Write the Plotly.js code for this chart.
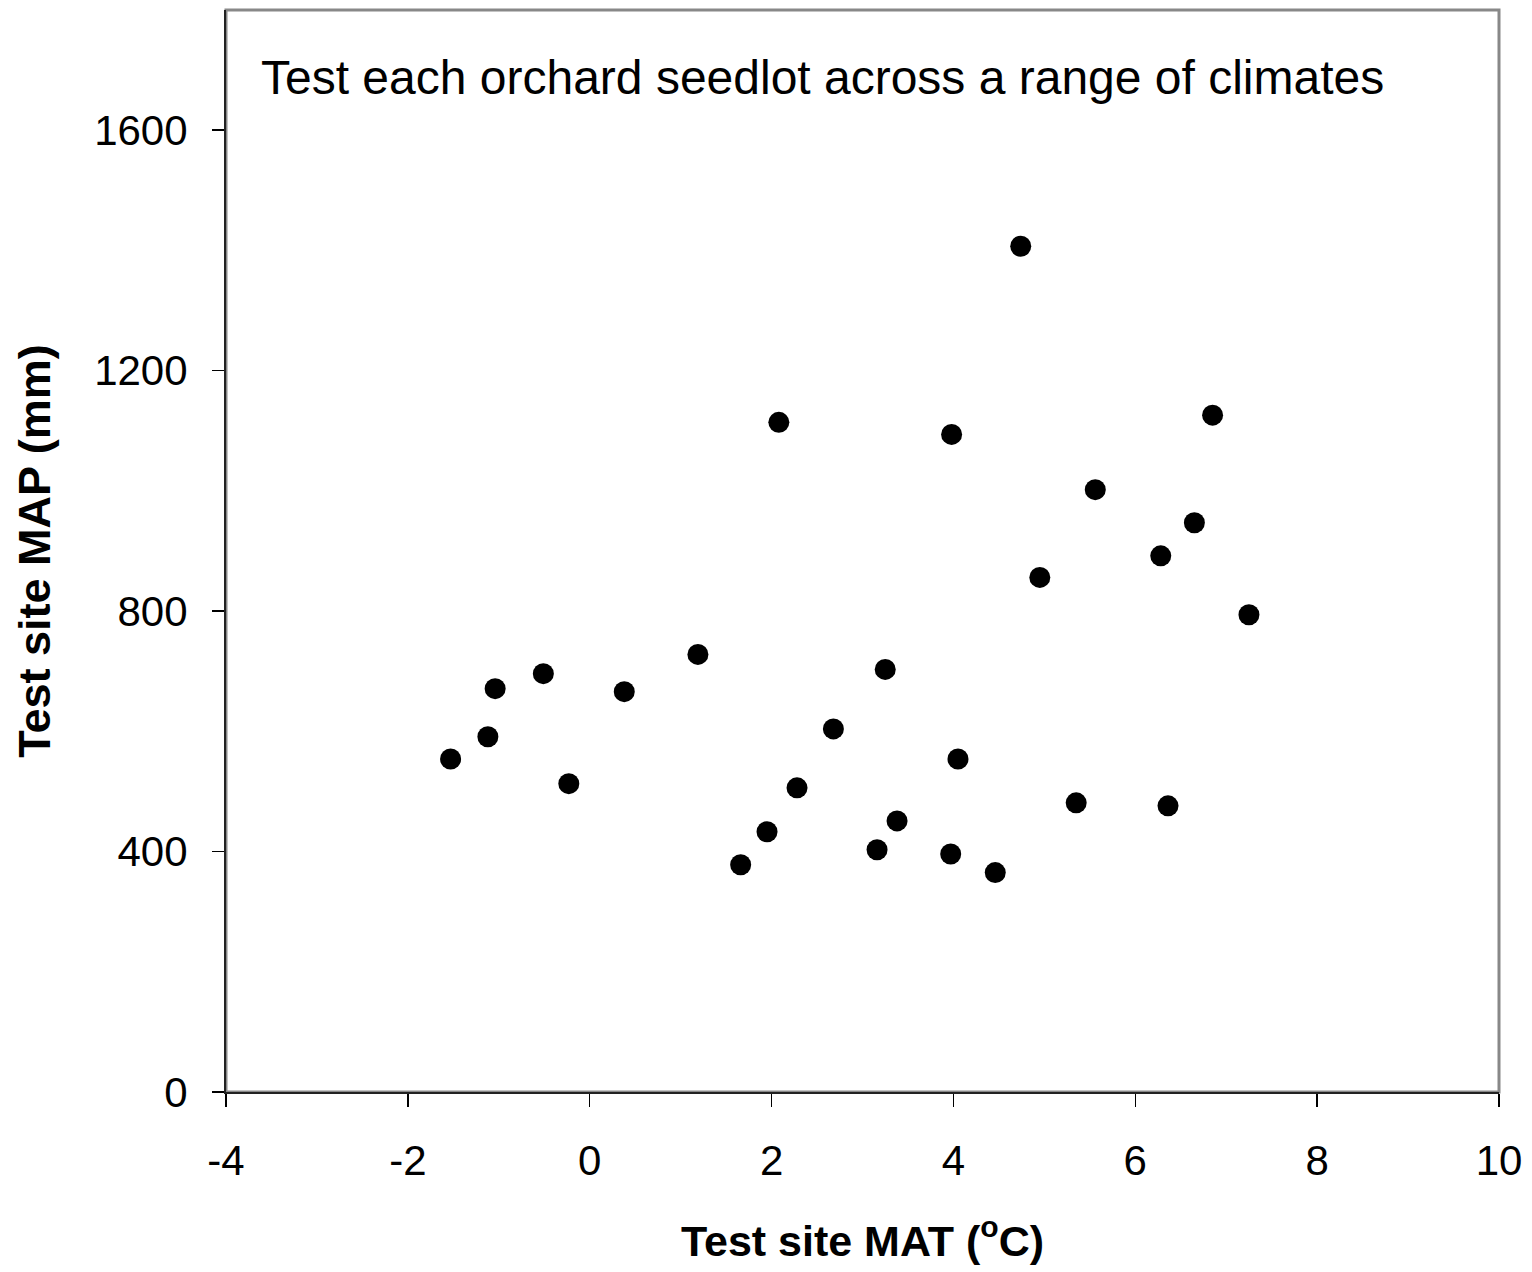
<!DOCTYPE html>
<html>
<head>
<meta charset="utf-8">
<script src="https://cdn.plot.ly/plotly-3.0.1.min.js"></script>
<style>html,body{margin:0;padding:0;background:#fff;}#chart{width:1532px;height:1272px;}</style>
</head>
<body>
<div id="chart"></div>
<script>
// Test site mean annual temperature (°C)
const matValues = [4.74, 2.08, 3.98, 6.85, 5.56, 6.65, 6.28, 4.95, 7.25, 1.19, 3.25, -0.51, -1.04, 0.38,
                   2.68, -1.12, -1.53, 4.05, -0.23, 2.28, 5.35, 6.36, 3.38, 1.95, 3.16, 3.97, 1.66, 4.46];
// Test site mean annual precipitation (mm)
const mapValues = [1407, 1114, 1094, 1126, 1002, 947, 892, 856, 794, 728, 703, 696, 671, 666,
                   604, 591, 554, 554, 513, 506, 481, 476, 451, 433, 403, 396, 378, 365];
const xTicks = [-4, -2, 0, 2, 4, 6, 8, 10];
const yTicks = [0, 400, 800, 1200, 1600];
const chartNote = "Test each orchard seedlot across a range of climates";
const xTitle = "Test site MAT (<sup>o</sup>C)";
const yTitle = "Test site MAP (mm)";

const FONT = '"Liberation Sans", Arial, Helvetica, sans-serif';

const trace = {
  type: 'scatter',
  mode: 'markers',
  x: matValues,
  y: mapValues,
  marker: {color: '#000', size: 21, line: {width: 0}},
  hoverinfo: 'x+y'
};

const layout = {
  width: 1532,
  height: 1272,
  margin: {l: 226, r: 33, t: 10, b: 180},
  paper_bgcolor: '#fff',
  plot_bgcolor: '#fff',
  showlegend: false,
  font: {family: FONT, color: '#000'},
  xaxis: {
    range: [-4, 10],
    tickvals: xTicks,
    ticktext: xTicks.map(String),
    ticks: 'outside',
    ticklen: 13,
    tickwidth: 1.5,
    tickcolor: '#000',
    ticklabelstandoff: 18,
    tickfont: {size: 42, family: FONT, color: '#000'},
    showgrid: false,
    zeroline: false,
    showline: true,
    linecolor: '#222',
    linewidth: 2,
    title: {text: xTitle, font: {size: 43, family: FONT, color: '#000', weight: 'bold'}, standoff: 42}
  },
  yaxis: {
    range: [0, 1800],
    tickvals: yTicks,
    ticktext: yTicks.map(String),
    ticks: 'outside',
    ticklen: 12,
    tickwidth: 1.5,
    tickcolor: '#000',
    ticklabelstandoff: 16,
    tickfont: {size: 42, family: FONT, color: '#000'},
    showgrid: false,
    zeroline: false,
    showline: true,
    linecolor: '#222',
    linewidth: 2,
    title: {text: yTitle, font: {size: 45, family: FONT, color: '#000', weight: 'bold'}, standoff: 29}
  },
  shapes: [{
    type: 'rect', xref: 'paper', yref: 'paper', x0: 0, x1: 1, y0: 0, y1: 1,
    line: {color: '#888', width: 3}, layer: 'below'
  }],
  annotations: [{
    xref: 'paper', yref: 'paper', x: 0.026, y: 0.938,
    xanchor: 'left', yanchor: 'middle', showarrow: false,
    text: chartNote,
    font: {size: 48, family: FONT, color: '#000'}
  }]
};

Plotly.newPlot('chart', [trace], layout, {displayModeBar: false, staticPlot: true});
</script>
</body>
</html>
